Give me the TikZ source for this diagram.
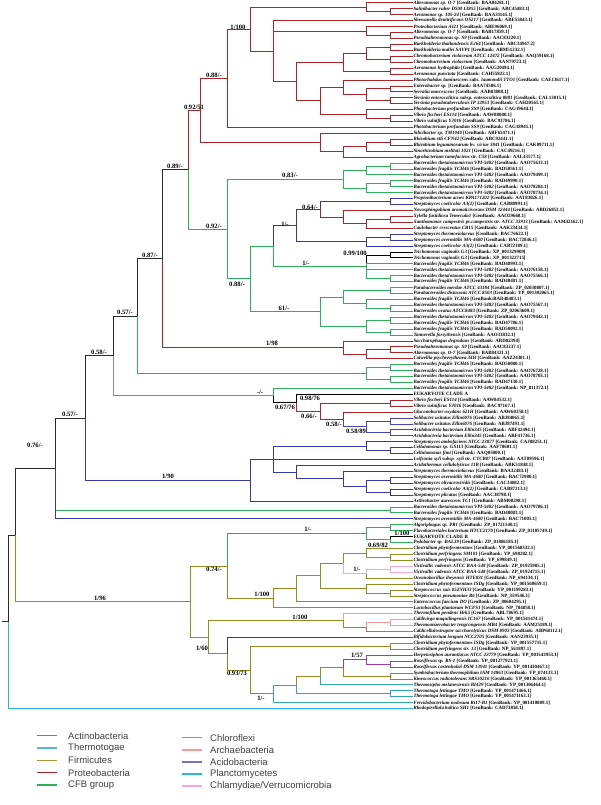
\documentclass[tikz,border=0pt]{standalone}
\usepackage{fontspec}
\setmainfont{Liberation Serif}
\newfontfamily\legendfont{Liberation Sans}
\usetikzlibrary{calc}

\definecolor{proteo}{HTML}{A8262A}
\definecolor{cfbgrp}{HTML}{2EAF5E}
\definecolor{actino}{HTML}{3838A8}
\definecolor{acido}{HTML}{4646B0}
\definecolor{firmi}{HTML}{8E8E22}
\definecolor{thermo}{HTML}{2FA8B0}
\definecolor{chloro}{HTML}{A03CA8}
\definecolor{archae}{HTML}{F49A9A}
\definecolor{plancto}{HTML}{2AB4EC}
\definecolor{chlamy}{HTML}{F5A8D2}
\definecolor{backb}{HTML}{2A2A2A}
\definecolor{grayb}{HTML}{8A8A8A}

\tikzset{
  leaf/.style={anchor=west, inner sep=0.3pt, font=\bfseries\fontsize{4.9}{5}\selectfont},
  supp/.style={inner sep=0pt, font=\bfseries\fontsize{6.6}{7}\selectfont},
  branch/.style={line width=1pt},
  pro/.style={branch, draw=proteo},
  cfb/.style={branch, draw=cfbgrp},
  act/.style={branch, draw=actino},
  aci/.style={branch, draw=acido},
  fir/.style={branch, draw=firmi},
  thm/.style={branch, draw=thermo},
  chl/.style={branch, draw=chloro},
  arc/.style={branch, draw=archae},
  pla/.style={branch, draw=plancto},
  ver/.style={branch, draw=chlamy},
  euk/.style={branch, draw=black},
  bb/.style={branch, draw=backb},
  gry/.style={branch, draw=grayb},
  legline/.style={line width=1.4pt},
  legtext/.style={anchor=west, inner sep=0pt, text=black!75, font=\legendfont\fontsize{9.5}{10}\selectfont},
}

% leaves, internal nodes, elbow branches
\newcommand\lf[3]{\node[leaf] (L#1) at (413,{3+5.93*(#1-1)}) {\textit{#2} [GenBank: #3]};}
\newcommand\lfx[2]{\node[leaf] (L#1) at (413,{3+5.93*(#1-1)}) {#2};}
\newcommand\inode[4]{\path let \p1=(#3), \p2=(#4) in coordinate (#1) at ({#2pt},{(\y1+\y2)/2});}
\newcommand\br[3]{\foreach \ch in {#3}{\draw[#1] (#2) |- (\ch);}}

\begin{document}
\begin{tikzpicture}[x=1pt,y=-1pt]
\useasboundingbox (0,0) rectangle (600,805);

% leaf labels
\lf{1}{Alteromonas sp. O-7}{BAA84281.1}
\lf{2}{Salinibacter ruber DSM 13855}{ABC45483.1}
\lf{3}{Aeromonas sp. 105-24}{BAA31145.1}
\lf{4}{Shewanella denitrificans OS217}{ABE55843.1}
\lf{5}{Proteobacterium AI21}{ABE96069.1}
\lf{6}{Alteromonas sp. O-7}{BAB17859.1}
\lf{7}{Pseudoalteromonas sp. S9}{AAC83220.1}
\lf{8}{Burkholderia thailandensis E264}{ABC34947.2}
\lf{9}{Burkholderia mallei SAVP1}{ABM51232.1}
\lf{10}{Chromobacterium violaceum ATCC 12472}{AAQ59168.1}
\lf{11}{Chromobacterium violaceum}{AAN79723.1}
\lf{12}{Aeromonas hydrophila}{AAG20494.1}
\lf{13}{Aeromonas punctata}{CAH55822.1}
\lf{14}{Photorhabdus luminescens subs. laumondii TTO1}{CAE13617.1}
\lf{15}{Enterobacter sp.}{BAA74586.1}
\lf{16}{Serratia marcescens}{AAB03808.1}
\lf{17}{Yersinia enterocolitica subsp. enterocolitica 8081}{CAL13015.1}
\lf{18}{Yersinia pseudotuberculosis IP 32953}{CAH20565.1}
\lf{19}{Photobacterium profundum SS9}{CAG19644.1}
\lf{20}{Vibrio fischeri ES114}{AAW88080.1}
\lf{21}{Vibrio vulnificus YJ016}{BAC93786.1}
\lf{22}{Photobacterium profundum SS9}{CAG18941.1}
\lf{23}{Silicibacter sp. TM1040}{ABF65471.1}
\lf{24}{Rhizobium etli CFN42}{ABC92441.1}
\lf{25}{Rhizobium leguminosarum bv. viciae 3841}{CAK09711.1}
\lf{26}{Sinorhizobium meliloti 1021}{CAC49216.1}
\lf{27}{Agrobacterium tumefaciens str. C58}{AAL43577.1}
\lf{28}{Bacteroides thetaiotaomicron VPI-5482}{AAO75613.1}
\lf{29}{Bacteroides fragilis YCH46}{BAD50561.1}
\lf{30}{Bacteroides thetaiotaomicron VPI-5482}{AAO79499.1}
\lf{31}{Bacteroides fragilis YCH46}{BAD49990.1}
\lf{32}{Bacteroides thetaiotaomicron VPI-5482}{AAO78284.1}
\lf{33}{Bacteroides thetaiotaomicron VPI-5482}{AAO78734.1}
\lf{34}{Propionibacterium acnes KPA171202}{AAT83026.1}
\lf{35}{Streptomyces coelicolor A3(2)}{CAB88991.1}
\lf{36}{Novosphingobium aromaticivorans DSM 12444}{ABD26853.1}
\lf{37}{Xylella fastidiosa Temecula1}{AAO29660.1}
\lf{38}{Xanthomonas campestris pv.campestris str. ATCC 33913}{AAM42162.1}
\lf{39}{Caulobacter crescentus CB15}{AAK23434.1}
\lf{40}{Streptomyces thermoviolaceus}{BAC76622.1}
\lf{41}{Streptomyces avermitilis MA-4680}{BAC72846.1}
\lf{42}{Streptomyces coelicolor A3(2)}{CAB72189.1}
\lf{43}{Trichomonas vaginalis G3}{XP\_001329909}
\lf{44}{Trichomonas vaginalis G3}{XP\_001322715}
\lf{45}{Bacteroides fragilis YCH46}{BAD48993.1}
\lf{46}{Bacteroides thetaiotaomicron VPI-5482}{AAO76158.1}
\lf{47}{Bacteroides thetaiotaomicron VPI-5482}{AAO75566.1}
\lf{48}{Bacteroides fragilis YCH46}{BAD48481.1}
\lf{49}{Parabacteroides merdae ATCC 43184}{ZP\_02030807.1}
\lf{50}{Parabacteroides distasonis ATCC 8503}{YP\_001302065.1}
\lfx{51}{\textit{Bacteroides fragilis YCH46} [GenBank:BAD48483.1]}
\lf{52}{Bacteroides thetaiotaomicron VPI-5482}{AAO75567.1}
\lf{53}{Bacteroides ovatus ATCC8483}{ZP\_02063609.1}
\lf{54}{Bacteroides thetaiotaomicron VPI-5482}{AAO79442.1}
\lf{55}{Bacteroides fragilis YCH46}{BAD47786.1}
\lf{56}{Bacteroides fragilis YCH46}{BAD50092.1}
\lf{57}{Tannerella forsythensis}{AAO33832.1}
\lf{58}{Saccharophagus degradans}{ABD82394}
\lf{59}{Pseudoalteromonas sp. S9}{AAC83237.1}
\lf{60}{Alteromonas sp. O-7}{BAB84321.1}
\lf{61}{Colwellia psychrerythraea 34H}{AAZ24381.1}
\lf{62}{Bacteroides fragilis YCH46}{BAD50080.1}
\lf{63}{Bacteroides thetaiotaomicron VPI-5482}{AAO76728.1}
\lf{64}{Bacteroides thetaiotaomicron VPI-5482}{AAO78703.1}
\lf{65}{Bacteroides fragilis YCH46}{BAD47130.1}
\lf{66}{Bacteroides thetaiotaomicron VPI-5482}{NP\_811372.1}
\lfx{67}{EUKARYOTE CLADE A}
\lf{68}{Vibrio fischeri ES114}{AAW84532.1}
\lf{69}{Vibrio vulnificus YJ016}{BAC97167.1}
\lf{70}{Gluconobacter oxydans 621H}{AAW60358.1}
\lf{71}{Solibacter usitatus Ellin6076}{ABJ84065.1}
\lf{72}{Solibacter usitatus Ellin6076}{ABJ87491.1}
\lf{73}{Acidobacteria bacterium Ellin345}{ABF42494.1}
\lf{74}{Acidobacteria bacterium Ellin345}{ABF41736.1}
\lf{75}{Streptomyces ambofaciens ATCC 23877}{CAJ88251.1}
\lf{76}{Cellulomonas sp. GS113}{AAF78601.1}
\lf{77}{Cellulomonas fimi}{AAQ05800.1}
\lf{78}{Leifsonia xyli subsp. xyli str. CTCB07}{AAT89596.1}
\lf{79}{Acidothermus cellulolyticus 11B}{ABK51848.1}
\lf{80}{Streptomyces thermoviolaceus}{BAA32483.1}
\lf{81}{Streptomyces avermitilis MA-4680}{BAC72980.1}
\lf{82}{Streptomyces olivaceoviridis}{CAC34882.1}
\lf{83}{Streptomyces coelicolor A3(2)}{CAB87213.1}
\lf{84}{Streptomyces plicatus}{AAC38798.1}
\lf{85}{Arthrobacter aurescens TC1}{ABM08298.1}
\lf{86}{Bacteroides thetaiotaomicron VPI-5482}{AAO79786.1}
\lf{87}{Bacteroides fragilis YCH46}{BAD48083.1}
\lf{88}{Streptomyces avermitilis MA-4680}{BAC71005.1}
\lf{89}{Algoriphagus sp. PR1}{ZP\_01721540.1}
\lf{90}{Flavobacteriales bacterium HTCC2170}{ZP\_01105749.1}
\lfx{91}{EUKARYOTE CLADE B}
\lf{92}{Pedobacter sp. BAL39}{ZP\_01886185.1}
\lf{93}{Clostridium phytofermentans}{YP\_001560332.1}
\lf{94}{Clostridium perfringens SM101}{YP\_698282.1}
\lf{95}{Clostridium perfringens}{YP\_699849.1}
\lf{96}{Victivallis vadensis ATCC BAA-548}{ZP\_01925985.1}
\lf{97}{Victivallis vadensis ATCC BAA-548}{ZP\_01924715.1}
\lf{98}{Oceanobacillus iheyensis HTE831}{NP\_694134.1}
\lf{99}{Clostridium phytofermentans ISDg}{YP\_001560659.1}
\lf{100}{Streptococcus suis 05ZYH33}{YP\_001199283.1}
\lf{101}{Streptococcus pneumoniae R6}{NP\_359546.1}
\lf{102}{Enterococcus faecium DO}{ZP\_00604295.1}
\lf{103}{Lactobacillus plantarum WCFS1}{NP\_784858.1}
\lf{104}{Thermofilum pendens Hrk5}{ABL78695.1}
\lf{105}{Caldivirga maquilingensis IC167}{YP\_001541474.1}
\lf{106}{Thermoanaerobacter tengcongensis MB4}{AAM25189.1}
\lf{107}{Caldicellulosiruptor saccharolyticus DSM 8903}{ABP68112.1}
\lf{108}{Bifidobacterium longum NCC2705}{AAN23935.1}
\lf{109}{Clostridium phytofermentans ISDg}{YP\_001557735.1}
\lf{110}{Clostridium perfringens str. 13}{NP\_561897.1}
\lf{111}{Herpetosiphon aurantiacus ATCC 23779}{YP\_001543953.1}
\lf{112}{Roseiflexus sp. RS-1}{YP\_001277921.1}
\lf{113}{Roseiflexus castenholzii DSM 13941}{YP\_001430467.1}
\lf{114}{Symbiobacterium thermophilum IAM 14863}{YP\_074133.1}
\lf{115}{Kineococcus radiotolerans SRS30216}{YP\_001363460.1}
\lf{116}{Thermosipho melanesiensis BI429}{YP\_001306464.1}
\lf{117}{Thermotoga lettingae TMO}{YP\_001471466.1}
\lf{118}{Thermotoga lettingae TMO}{YP\_001471163.1}
\lf{119}{Fervidobacterium nodosum Rt17-B1}{YP\_001410089.1}
\lf{120}{Rhodopirellula baltica SH1}{CAD73858.1}

% Proteobacteria (top)
\inode{n23}{390.7}{L2.west}{L3.west}
\inode{nA}{366.7}{L1.west}{n23}
\inode{n67}{390.7}{L6.west}{L7.west}
\inode{n5}{366.7}{L5.west}{n67}
\inode{n89}{390.7}{L8.west}{L9.west}
\inode{n1011}{390.7}{L10.west}{L11.west}
\inode{n811}{366.7}{n89}{n1011}
\inode{n1213}{390.7}{L12.west}{L13.west}
\inode{nD}{343.3}{n811}{n1213}
\inode{n1516}{390.7}{L15.west}{L16.west}
\inode{n1718}{390.7}{L17.west}{L18.west}
\inode{n1518}{366.7}{n1516}{n1718}
\inode{nF}{343.3}{L14.west}{n1518}
\inode{n2021}{390.7}{L20.west}{L21.west}
\inode{n19}{366.7}{L19.west}{n2021}
\inode{nE}{320}{nF}{n19}
\inode{nC}{296.7}{nD}{nE}
\inode{nB}{273.3}{L4.west}{nC}
\inode{nN1}{250.7}{nA}{nB}
\inode{nN2}{227.3}{nN1}{L22.west}
\inode{n2425}{390.7}{L24.west}{L25.west}
\inode{n26}{366.7}{n2425}{L26.west}
\inode{n27}{343.3}{n26}{L27.west}
\inode{nH}{320}{L23.west}{n27}

% CFB group with nested clades
\inode{n2829}{390.7}{L28.west}{L29.west}
\inode{n2830}{366.7}{n2829}{L30.west}
\inode{n3132}{390.7}{L31.west}{L32.west}
\inode{n3133}{366.7}{n3132}{L33.west}
\inode{nG1}{343.3}{n2830}{n3133}
\inode{n3435}{390.7}{L34.west}{L35.west}
\inode{n3738}{390.7}{L37.west}{L38.west}
\inode{n3739}{366.7}{n3738}{L39.west}
\inode{n3639}{343.3}{L36.west}{n3739}
\inode{nR}{320}{n3435}{n3639}
\inode{n4041}{390.7}{L40.west}{L41.west}
\inode{n4042}{366.7}{n4041}{L42.west}
\inode{nQ}{296.7}{nR}{n4042}
\inode{n4344}{390.7}{L43.west}{L44.west}
\inode{n4748}{390.7}{L47.west}{L48.west}
\inode{nS}{366.7}{n4344}{n4748}
\inode{nP}{273.3}{nQ}{nS}
\inode{n4950}{390.7}{L49.west}{L50.west}
\inode{n5253}{390.7}{L52.west}{L53.west}
\inode{n5153}{366.7}{L51.west}{n5253}
\inode{n4953}{343.3}{n4950}{n5153}
\inode{n5455}{390.7}{L54.west}{L55.west}
\inode{n5657}{390.7}{L56.west}{L57.west}
\inode{n5457}{366.7}{n5455}{n5657}
\inode{nU}{320}{n4953}{n5457}
\inode{nG3}{250.7}{nP}{nU}
\inode{nG2}{227.3}{nG1}{nG3}

\inode{n5960}{390.7}{L59.west}{L60.west}
\inode{n5961}{366.7}{n5960}{L61.west}
\inode{nRed}{343.3}{L58.west}{n5961}
\inode{n6263}{390.7}{L62.west}{L63.west}
\inode{n6465}{390.7}{L64.west}{L65.west}
\inode{nG62}{366.7}{n6263}{n6465}

% eukaryote clade A
\inode{n6869}{390.7}{L68.west}{L69.west}
\inode{n7172}{390.7}{L71.west}{L72.west}
\inode{n7374}{390.7}{L73.west}{L74.west}
\inode{nAci}{366.7}{n7172}{n7374}
\inode{nGlu}{343.3}{L70.west}{nAci}
\inode{nVib}{320}{n6869}{nGlu}
\inode{nEukA}{296.7}{L67.west}{nVib}
\inode{nG66}{273.3}{L66.west}{nEukA}

% Actinobacteria
\inode{n7677}{390.7}{L76.west}{L77.west}
\inode{nSa}{366.7}{L75.west}{n7677}
\inode{n8182}{390.7}{L81.west}{L82.west}
\inode{n8384}{390.7}{L83.west}{L84.west}
\inode{n8184}{366.7}{n8182}{n8384}
\inode{nSt}{343.3}{L80.west}{n8184}
\inode{nAc}{296.7}{L79.west}{nSt}
\inode{nAct2}{273.3}{nSa}{nAc}
\inode{nAct3}{250.7}{nAct2}{L85.west}
\inode{n8687}{390.7}{L86.west}{L87.west}

% eukaryote clade B, Firmicutes
\inode{n8990}{390.7}{L89.west}{L90.west}
\inode{n9192}{390.7}{L91.west}{L92.west}
\inode{nV}{366.7}{n8990}{n9192}
\inode{n9495}{390.7}{L94.west}{L95.west}
\inode{n9395}{366.7}{L93.west}{n9495}
\inode{n9697}{390.7}{L96.west}{L97.west}
\inode{nVic}{366.7}{n9697}{L98.west}
\inode{nCl}{343.3}{n9395}{nVic}
\inode{n100101}{390.7}{L100.west}{L101.west}
\inode{n99}{366.7}{L99.west}{n100101}
\inode{nF1}{320}{nCl}{n99}
\inode{nF2}{296.7}{nF1}{L102.west}
\inode{nF3}{273.3}{nF2}{L103.west}
\inode{nFa}{227.3}{nV}{nF3}
\inode{n105106}{390.7}{L105.west}{L106.west}
\inode{n105107}{366.7}{n105106}{L107.west}
\inode{nTh}{343.3}{L104.west}{n105107}
\inode{n109110}{390.7}{L109.west}{L110.west}
\inode{n112113}{390.7}{L112.west}{L113.west}
\inode{nCh}{366.7}{L111.west}{n112113}
\inode{n114115}{390.7}{L114.west}{L115.west}
\inode{nK1}{343.3}{nCh}{n114115}
\inode{nK2}{320}{nK1}{L116.west}
\inode{n117118}{390.7}{L117.west}{L118.west}
\inode{nK3}{296.7}{nK2}{n117118}
\inode{nK4}{273.3}{nK3}{L119.west}
\inode{nM1}{250.7}{n109110}{nK4}
\inode{nM2}{227.3}{L108.west}{nM1}
\inode{nT}{208}{nTh}{nM2}

% backbone
\inode{nN3}{200}{nN2}{nH}
\inode{nN4}{188}{nN3}{nG2}
\inode{nN5}{162}{nN4}{nRed}
\inode{nN6}{137}{nN5}{nG62}
\inode{nN7}{113}{nN6}{nG66}
\inode{nN8}{85}{nN7}{nAct3}
\inode{nN9}{55}{nN8}{L88.west}
\inode{nFir}{190}{nFa}{nT}
\inode{nX}{15}{nN9}{nFir}
\inode{nRoot}{8}{nX}{L120.west}
\path let \p1=(nRoot) in coordinate (r0) at (2pt,\y1);

% branches
\br{pro}{n23}{L2.west,L3.west}
\br{pro}{nA}{L1.west,n23}
\br{pro}{n67}{L6.west,L7.west}
\br{pro}{n5}{L5.west,n67}
\br{pro}{n89}{L8.west,L9.west}
\br{pro}{n1011}{L10.west,L11.west}
\br{pro}{n811}{n89,n1011}
\br{pro}{n1213}{L12.west,L13.west}
\br{pro}{nD}{n811,n1213}
\br{pro}{n1516}{L15.west,L16.west}
\br{pro}{n1718}{L17.west,L18.west}
\br{pro}{n1518}{n1516,n1718}
\br{pro}{nF}{L14.west,n1518}
\br{pro}{n2021}{L20.west,L21.west}
\br{pro}{n19}{L19.west,n2021}
\br{pro}{nE}{nF,n19}
\br{pro}{nC}{nD,nE}
\br{pro}{nB}{L4.west,n5,nC}
\br{pro}{nN1}{nA,nB}
\br{pro}{nN2}{nN1,L22.west}
\br{pro}{n2425}{L24.west,L25.west}
\br{pro}{n26}{n2425,L26.west}
\br{pro}{n27}{n26,L27.west}
\br{pro}{nH}{L23.west,n27}

\br{cfb}{n2829}{L28.west,L29.west}
\br{cfb}{n2830}{n2829,L30.west}
\br{cfb}{n3132}{L31.west,L32.west}
\br{cfb}{n3133}{n3132,L33.west}
\br{cfb}{nG1}{n2830,n3133}
\br{act}{n3435}{L34.west,L35.west}
\br{pro}{n3738}{L37.west,L38.west}
\br{pro}{n3739}{n3738,L39.west}
\br{pro}{n3639}{L36.west,n3739}
\br{act}{nR}{n3435}
\br{pro}{nR}{n3639}
\br{act}{n4041}{L40.west,L41.west}
\br{act}{n4042}{n4041,L42.west}
\br{act}{nQ}{nR,n4042}
\br{euk}{n4344}{L43.west,L44.west}
\br{cfb}{n4748}{L47.west,L48.west}
\br{euk}{nS}{n4344}
\br{cfb}{nS}{L45.west,L46.west,n4748}
\br{act}{nP}{nQ}
\br{cfb}{nP}{nS}
\br{cfb}{n4950}{L49.west,L50.west}
\br{cfb}{n5253}{L52.west,L53.west}
\br{cfb}{n5153}{L51.west,n5253}
\br{cfb}{n4953}{n4950,n5153}
\br{cfb}{n5455}{L54.west,L55.west}
\br{cfb}{n5657}{L56.west,L57.west}
\br{cfb}{n5457}{n5455,n5657}
\br{cfb}{nU}{n4953,n5457}
\br{cfb}{nG3}{nP,nU}
\br{cfb}{nG2}{nG1,nG3}

\br{pro}{n5960}{L59.west,L60.west}
\br{pro}{n5961}{n5960,L61.west}
\br{pro}{nRed}{L58.west,n5961}
\br{cfb}{n6263}{L62.west,L63.west}
\br{cfb}{n6465}{L64.west,L65.west}
\br{cfb}{nG62}{n6263,n6465}

\br{pro}{n6869}{L68.west,L69.west}
\br{aci}{n7172}{L71.west,L72.west}
\br{aci}{n7374}{L73.west,L74.west}
\br{aci}{nAci}{n7172,n7374}
\br{pro}{nGlu}{L70.west}
\br{aci}{nGlu}{nAci}
\br{pro}{nVib}{n6869,nGlu}
\br{euk}{nEukA}{L67.west}
\br{pro}{nEukA}{nVib}
\br{cfb}{nG66}{L66.west}
\br{euk}{nG66}{nEukA}

\br{act}{n7677}{L76.west,L77.west}
\br{act}{nSa}{L75.west,n7677}
\br{act}{n8182}{L81.west,L82.west}
\br{act}{n8384}{L83.west,L84.west}
\br{act}{n8184}{n8182,n8384}
\br{act}{nSt}{L80.west,n8184}
\br{act}{nAc}{L79.west,nSt}
\br{act}{nAct2}{nSa,L78.west,nAc}
\br{act}{nAct3}{nAct2,L85.west}
\br{cfb}{n8687}{L86.west,L87.west}

\br{cfb}{n8990}{L89.west,L90.west}
\br{euk}{n9192}{L91.west}
\br{cfb}{n9192}{L92.west}
\br{cfb}{nV}{n8990,n9192}
\br{fir}{n9495}{L94.west,L95.west}
\br{fir}{n9395}{L93.west,n9495}
\br{ver}{n9697}{L96.west,L97.west}
\br{ver}{nVic}{n9697}
\br{fir}{nVic}{L98.west}
\br{fir}{nCl}{n9395}
\br{ver}{nCl}{nVic}
\br{fir}{n100101}{L100.west,L101.west}
\br{fir}{n99}{L99.west,n100101}
\br{fir}{nF1}{nCl,n99}
\br{fir}{nF2}{nF1,L102.west}
\br{fir}{nF3}{nF2,L103.west}
\br{cfb}{nFa}{nV}
\br{fir}{nFa}{nF3}
\br{arc}{n105106}{L105.west,L106.west}
\br{arc}{n105107}{n105106}
\br{fir}{n105107}{L107.west}
\br{arc}{nTh}{L104.west}
\br{fir}{nTh}{n105107}
\br{fir}{n109110}{L109.west,L110.west}
\br{chl}{n112113}{L112.west,L113.west}
\br{chl}{nCh}{L111.west,n112113}
\br{fir}{n114115}{L114.west,L115.west}
\br{chl}{nK1}{nCh}
\br{fir}{nK1}{n114115}
\br{fir}{nK2}{nK1}
\br{thm}{nK2}{L116.west}
\br{thm}{n117118}{L117.west,L118.west}
\br{fir}{nK3}{nK2}
\br{thm}{nK3}{n117118}
\br{thm}{nK4}{nK3,L119.west}
\br{fir}{nM1}{n109110,nK4}
\br{act}{nM2}{L108.west}
\br{fir}{nM2}{nM1}
\br{fir}{nT}{nTh,nM2}

\br{pro}{nN3}{nN2,nH}
\br{pro}{nN4}{nN3}
\br{cfb}{nN4}{nG2}
\br{bb}{nN5}{nN4}
\br{pro}{nN5}{nRed}
\br{bb}{nN6}{nN5}
\br{cfb}{nN6}{nG62}
\br{bb}{nN7}{nN6}
\br{gry}{nN7}{nG66}
\br{bb}{nN8}{nN7}
\br{act}{nN8}{nAct3}
\br{bb}{nN9}{nN8}
\br{cfb}{nN9}{n8687}
\br{act}{nN9}{L88.west}
\br{fir}{nFir}{nFa,nT}
\br{bb}{nX}{nN9}
\br{fir}{nX}{nFir}
\br{bb}{nRoot}{nX}
\br{pla}{nRoot}{L120.west}
\draw[bb] (r0) -- (nRoot);

% support values
\node[supp] (s1) at (238,27) {1/100};
\node[supp] (s2) at (214,75) {0.88/-};
\node[supp] (s3) at (194,107) {0.92/51};
\node[supp] (s4) at (290,175) {0.83/-};
\node[supp] (s5) at (175,166) {0.89/-};
\node[supp] (s6) at (310,207) {0.64/-};
\node[supp] (s7) at (285,224) {1/-};
\node[supp] (s8) at (214,226) {0.92/-};
\node[supp] (s9) at (355,253) {0.99/100};
\node[supp] (s10) at (306,263) {1/-};
\node[supp] (s11) at (150,255) {0.87/-};
\node[supp] (s12) at (237,284) {0.88/-};
\node[supp] (s13) at (284,308) {61/-};
\node[supp] (s14) at (125,312) {0.57/-};
\node[supp] (s15) at (272,343) {1/98};
\node[supp] (s16) at (99,352) {0.58/-};
\node[supp] (s17) at (260,392) {-/-};
\node[supp] (s18) at (310,398) {0.98/76};
\node[supp] (s19) at (285,407) {0.67/76};
\node[supp] (s20) at (309,416) {0.66/-};
\node[supp] (s21) at (70,414) {0.57/-};
\node[supp] (s22) at (334,424) {0.58/-};
\node[supp] (s23) at (356,431) {0.58/89};
\node[supp] (s24) at (35,445) {0.76/-};
\node[supp] (s25) at (168,476) {1/90};
\node[supp] (s26) at (308,529) {1/-};
\node[supp] (s27) at (402,533) {1/100};
\node[supp] (s28) at (378,545) {0.69/82};
\node[supp] (s29) at (357,569) {1/-};
\node[supp] (s30) at (214,569) {0.74/-};
\node[supp] (s31) at (100,598) {1/96};
\node[supp] (s32) at (262,594) {1/100};
\node[supp] (s33) at (300,617) {1/100};
\node[supp] (s34) at (202,648) {1/60};
\node[supp] (s35) at (357,655) {1/57};
\node[supp] (s36) at (237,673) {0.93/73};
\node[supp] (s37) at (261,698) {1/-};

% legend
\draw[legline, draw=actino!70] (37,735.7) -- (57,735.7);
\node[legtext] (g1) at (68,735.7) {Actinobacteria};
\draw[legline, draw=thermo!80] (37,748) -- (57,748);
\node[legtext] (g2) at (68,748) {Thermotogae};
\draw[legline, draw=firmi!90] (37,760.5) -- (57,760.5);
\node[legtext] (g3) at (68,760.5) {Firmicutes};
\draw[legline, draw=proteo] (37,772.7) -- (57,772.7);
\node[legtext] (g4) at (68,772.7) {Proteobacteria};
\draw[legline, draw=cfbgrp] (37,785) -- (57,785);
\node[legtext] (g5) at (68,785) {CFB group};
\draw[legline, draw=chloro!70] (182,737.7) -- (202,737.7);
\node[legtext] (g6) at (210,737.7) {Chloroflexi};
\draw[legline, draw=archae] (182,749.8) -- (202,749.8);
\node[legtext] (g7) at (210,749.8) {Archaebacteria};
\draw[legline, draw=acido!75] (182,762) -- (202,762);
\node[legtext] (g8) at (210,762) {Acidobacteria};
\draw[legline, draw=plancto] (182,774) -- (202,774);
\node[legtext] (g9) at (210,774) {Planctomycetes};
\draw[legline, draw=chlamy] (182,786) -- (202,786);
\node[legtext] (g10) at (210,786) {Chlamydiae/Verrucomicrobia};
\end{tikzpicture}
\end{document}
